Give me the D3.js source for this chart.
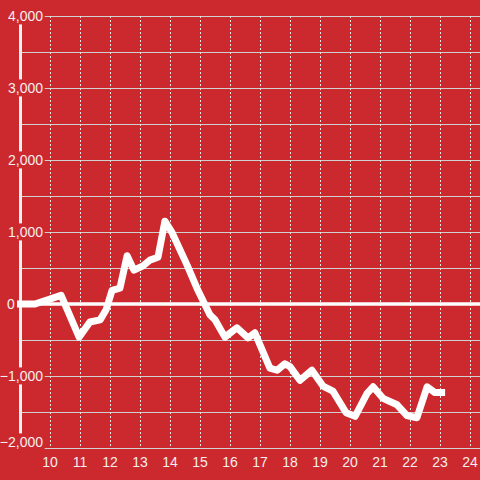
<!DOCTYPE html>
<html><head><meta charset="utf-8">
<script src="https://cdn.jsdelivr.net/npm/d3@7"></script>
<style>
html,body{margin:0;padding:0;background:#cc292e;}
svg{display:block;}
text{font-family:"Liberation Sans",Arial,sans-serif;font-size:14px;fill:#f4eeee;}
</style></head><body>
<svg id="c" width="480" height="480"></svg>
<script>
const hours = [8.9, 9.5, 10.37, 10.97, 11.33, 11.67, 11.87, 12.07, 12.33, 12.57, 12.8, 13.1, 13.33, 13.6, 13.83, 14.07, 14.57, 14.93, 15.33, 15.5, 15.83, 16.23, 16.6, 16.83, 17.33, 17.57, 17.83, 18.0, 18.33, 18.73, 19.1, 19.43, 19.87, 20.17, 20.57, 20.77, 21.1, 21.57, 21.9, 22.23, 22.57, 22.83, 23.17];
const values = [0, 0, 120, -460, -250, -220, -80, 190, 220, 670, 470, 530, 610, 650, 1150, 990, 540, 190, -150, -220, -460, -330, -470, -400, -890, -920, -830, -870, -1060, -920, -1140, -1210, -1510, -1560, -1240, -1150, -1310, -1400, -1550, -1580, -1150, -1230, -1230];
const xTicks = [10, 11, 12, 13, 14, 15, 16, 17, 18, 19, 20, 21, 22, 23, 24];
const yGrid = [-2000, -1500, -1000, -500, 0, 500, 1000, 1500, 2000, 2500, 3000, 3500, 4000];
const yLabels = [-2000, -1000, 0, 1000, 2000, 3000, 4000];

const svg = d3.select("#c");
const x = d3.scaleLinear().domain([9, 24 + 1/3]).range([20, 480]);
const y = d3.scaleLinear().domain([-2000, 4000]).range([448, 16]);
const fmt = d3.format(",");

// horizontal grid
svg.append("g").selectAll("line").data(yGrid.filter(d => d !== 0)).join("line")
  .attr("x1", x(9)).attr("x2", 480)
  .attr("y1", d => Math.round(y(d)) + 0.5).attr("y2", d => Math.round(y(d)) + 0.5)
  .attr("stroke", "#cfcfcf").attr("stroke-width", 1.2);

// vertical dashed grid
svg.append("g").selectAll("line").data(xTicks).join("line")
  .attr("x1", d => Math.round(x(d)) + 0.5).attr("x2", d => Math.round(x(d)) + 0.5)
  .attr("y1", y(4000)).attr("y2", y(-2000))
  .attr("stroke", "#e6e6e6").attr("stroke-width", 1).attr("stroke-dasharray", "2,2");

// y axis line
svg.append("line").attr("x1", x(9) + 0.5).attr("x2", x(9) + 0.5)
  .attr("y1", y(4000)).attr("y2", y(-2000))
  .attr("stroke", "#f2f2f2").attr("stroke-width", 3);

// zero line
svg.append("line").attr("x1", 17).attr("x2", 480)
  .attr("y1", y(0)).attr("y2", y(0))
  .attr("stroke", "#ffffff").attr("stroke-width", 3.3);

// y labels with background
const yl = svg.append("g");
yLabels.forEach(v => {
  const g = yl.append("g");
  const isZero = v === 0;
  const ty = v === -2000 ? y(v) - 6 : y(v);
  const t = g.append("text")
    .attr("x", isZero ? 7 : 43)
    .attr("y", ty)
    .attr("dy", "0.35em")
    .attr("text-anchor", isZero ? "start" : "end")
    .text(fmt(v));
  const b = t.node().getBBox();
  g.insert("rect", "text")
    .attr("x", b.x - 1.5).attr("y", b.y - 0.5)
    .attr("width", b.width + 3).attr("height", b.height + 1)
    .attr("fill", "#cc292e");
});

// x labels
svg.append("g").selectAll("text").data(xTicks).join("text")
  .attr("x", d => x(d)).attr("y", 462).attr("dy", "0.35em")
  .attr("text-anchor", "middle").text(d => d);

// data line
const line = d3.line().x((d, i) => x(hours[i])).y(d => y(d));
svg.append("path").attr("d", line(values))
  .attr("fill", "none").attr("stroke", "#ffffff")
  .attr("stroke-width", 7).attr("stroke-linejoin", "round").attr("stroke-linecap", "butt");
</script>
</body></html>
